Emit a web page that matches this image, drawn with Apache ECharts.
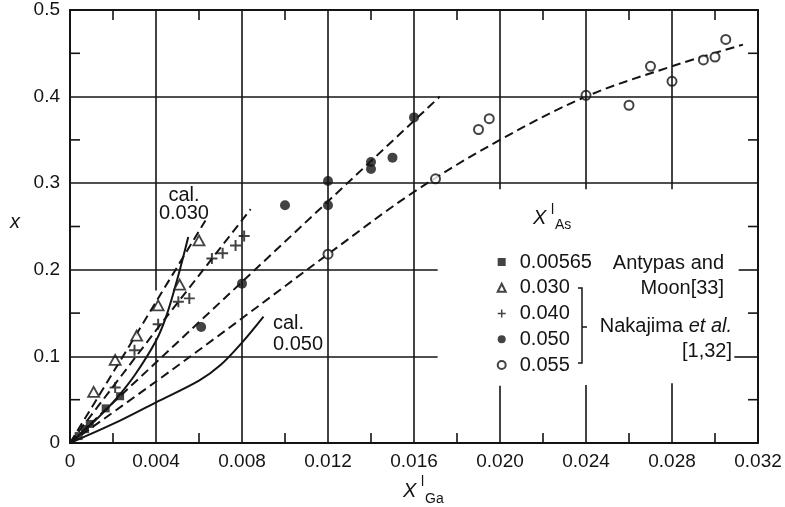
<!DOCTYPE html>
<html><head><meta charset="utf-8">
<script src="https://cdn.jsdelivr.net/npm/echarts@6/dist/echarts.min.js"></script>
<style>html,body{margin:0;padding:0;background:#fff}#c{width:785px;height:507px}</style>
</head><body><div id="c"></div>
<script>
// ---- data ----
const legendNames = ['0.00565', '0.030', '0.040', '0.050', '0.055'];
const antypas00565 = [[0.0004,0.008],[0.0007,0.016],[0.00092,0.022],[0.00166,0.040],[0.00233,0.054]];
const nakajima030 = [[0.0011,0.059],[0.0021,0.096],[0.0031,0.124],[0.0041,0.159],[0.0051,0.183],[0.0060,0.234]];
const nakajima040 = [[0.0021,0.064],[0.0030,0.107],[0.0041,0.137],[0.00504,0.163],[0.00555,0.167],[0.0066,0.213],[0.0071,0.219],[0.0077,0.228],[0.0081,0.239]];
const nakajima050 = [[0.0061,0.134],[0.0080,0.184],[0.0100,0.2745],[0.0120,0.2745],[0.0120,0.3025],[0.0140,0.3164],[0.0140,0.3245],[0.0150,0.3295],[0.0160,0.376]];
const nakajima055 = [[0.0120,0.218],[0.0170,0.305],[0.0190,0.362],[0.0195,0.3745],[0.0240,0.4015],[0.0260,0.390],[0.0270,0.435],[0.0280,0.4176],[0.02946,0.4423],[0.0300,0.4457],[0.0305,0.466]];
const fit030 = [[0,0],[0.003,0.122],[0.0063,0.257]];
const fit040 = [[0,0],[0.004,0.130],[0.0084,0.270]];
const fit050 = [[0,0],[0.008,0.186],[0.0172,0.400]];
const fit055 = [[0,0],[0.004,0.071],[0.008,0.144],[0.012,0.218],[0.016,0.290],[0.020,0.350],[0.024,0.400],[0.028,0.435],[0.0313,0.460]];
const cal030 = [[0,0],[0.001,0.022],[0.002,0.047],[0.003,0.078],[0.004,0.118],[0.0045,0.148],[0.005,0.190],[0.0055,0.238]];
const cal050 = [[0,0],[0.002,0.022],[0.004,0.047],[0.006,0.072],[0.007,0.090],[0.008,0.116],[0.009,0.146]];
// minor tick positions (between the labelled ticks)
const minorX = [0.002,0.006,0.010,0.014,0.018,0.022,0.026,0.030];
const minorY = [0.05,0.15,0.25,0.35,0.45];

// ---- layout / style ----
const INK = '#141414';
const FONT = "'Liberation Sans', Arial, Helvetica, sans-serif";
const X_MAX = 0.032, Y_MAX = 0.5, TICK_PX = 10;
// grid-line segments [x1,y1,x2,y2] in axis units (the original leaves gaps round the key)
const gridSegments = [
  [0.004,0,0.004,0.121],[0.004,0.176,0.004,0.5],
  [0.008,0,0.008,0.5],[0.012,0,0.012,0.5],[0.016,0,0.016,0.5],
  [0.020,0,0.020,0.066],[0.020,0.293,0.020,0.5],
  [0.024,0,0.024,0.067],[0.024,0.293,0.024,0.5],
  [0.028,0,0.028,0.069],[0.028,0.293,0.028,0.5],
  [0,0.1,0.0171,0.1],[0.0309,0.1,0.032,0.1],
  [0,0.2,0.0171,0.2],[0.0311,0.2,0.032,0.2],
  [0,0.3,0.032,0.3],[0,0.4,0.032,0.4]
];
const PLUS = 'path://M4.1,0H5.9V4.1H10V5.9H5.9V10H4.1V5.9H0V4.1H4.1Z';

function xAx(pos){
  return {type:'value', min:0, max:X_MAX, interval:0.004, position:pos,
    axisLine:{show:true, onZero:false, lineStyle:{color:INK, width:2}},
    axisTick:{show:false}, splitLine:{show:false},
    axisLabel:{show: pos==='bottom', margin:9, fontSize:19, color:INK, fontFamily:FONT,
      formatter: v => v===0 ? '0' : v.toFixed(3)}};
}
function yAx(pos){
  return {type:'value', min:0, max:Y_MAX, interval:0.1, position:pos,
    axisLine:{show:true, onZero:false, lineStyle:{color:INK, width:2}},
    axisTick:{show:false}, splitLine:{show:false},
    axisLabel:{show: pos==='left', margin:10, fontSize:19, color:INK, fontFamily:FONT,
      formatter: v => v===0 ? '0' : v.toFixed(1)}};
}
function fitLine(name, data, dashed, smooth){
  return {name, type:'line', data, showSymbol:false, symbol:'none', smooth: smooth ? 0.35 : false,
    silent:true, z:2, lineStyle:{color:INK, width:2, type: dashed ? [9,5] : 'solid'}};
}
function segLines(name, segs, width){
  return {name, type:'line', data:[], silent:true, z:1,
    markLine:{silent:true, symbol:['none','none'], label:{show:false}, animation:false,
      lineStyle:{color:INK, width, type:'solid'}, emphasis:{disabled:true},
      data: segs.map(s => [{coord:[s[0],s[1]]},{coord:[s[2],s[3]]}])}};
}

const chart = echarts.init(document.getElementById('c'), null, {renderer:'canvas'});
const option = {
  animation:false,
  backgroundColor:'#fff',
  grid:{left:70, right:27, top:10, bottom:64},
  xAxis:[xAx('bottom'), xAx('top')],
  yAxis:[yAx('left'), yAx('right')],
  legend:{data:legendNames, orient:'vertical', left:496.7, top:252, padding:0,
    itemWidth:8, itemHeight:8, itemGap:5.75, selectedMode:false,
    textStyle:{fontSize:20, lineHeight:20, color:INK, fontFamily:FONT, padding:[0,0,0,9]}},
  series:[
    segLines('grid', gridSegments, 1.6),
    fitLine('fit030', fit030, true, false),
    fitLine('fit040', fit040, true, false),
    fitLine('fit050', fit050, true, false),
    fitLine('fit055', fit055, true, true),
    fitLine('cal030', cal030, false, true),
    fitLine('cal050', cal050, false, true),
    {name:legendNames[0], type:'scatter', data:antypas00565, symbol:'rect', symbolSize:8, z:3,
      itemStyle:{color:INK}},
    {name:legendNames[1], type:'scatter', data:nakajima030, symbol:'triangle', symbolSize:[11,10], z:3,
      itemStyle:{color:'#fff', borderColor:INK, borderWidth:1.8}},
    {name:legendNames[2], type:'scatter', data:nakajima040, symbol:PLUS, symbolSize:11, z:3,
      itemStyle:{color:INK}},
    {name:legendNames[3], type:'scatter', data:nakajima050, symbol:'circle', symbolSize:10, z:3,
      itemStyle:{color:INK}},
    {name:legendNames[4], type:'scatter', data:nakajima055, symbol:'circle', symbolSize:9, z:3,
      itemStyle:{color:'#fff', borderColor:INK, borderWidth:2}}
  ]
};
chart.setOption(option);

const px = p => chart.convertToPixel({xAxisIndex:0, yAxisIndex:0}, p);
const o = px([0,0]), e = px([X_MAX, Y_MAX]);
const tickEls = [];
function tick(x1,y1,x2,y2){
  tickEls.push({type:'line', z:5, shape:{x1,y1,x2,y2}, style:{stroke:INK, lineWidth:1.6}});
}
// inward minor ticks on all four sides, placed through the axes' own scale
minorX.forEach(v => { const x = px([v,0])[0]; tick(x,o[1],x,o[1]-TICK_PX); tick(x,e[1],x,e[1]+TICK_PX); });
minorY.forEach(v => { const y = px([0,v])[1]; tick(o[0],y,o[0]+TICK_PX,y); tick(e[0],y,e[0]-TICK_PX,y); });

const c30 = px([0.0053, 0.275]);
const c50 = px([0.00944, 0.126]);
function txt(x, y, text, extra){
  return {type:'text', x, y, z:10, style:Object.assign({text, fill:INK, fontFamily:FONT, fontSize:20,
    align:'left', verticalAlign:'middle'}, extra||{})};
}
chart.setOption({graphic: tickEls.concat([
  txt(c30[0], c30[1], 'cal.\n0.030', {align:'center', lineHeight:18}),
  txt(c50[0], c50[1], 'cal.\n0.050', {align:'left', lineHeight:21}),
  // y axis name
  txt(15, 222, 'x', {align:'center', fontStyle:'italic'}),
  // x axis name  X^l_Ga
  txt(403, 491, 'X', {fontStyle:'italic'}),
  txt(421, 482, 'l', {fontSize:14}),
  txt(425, 499, 'Ga', {fontSize:14}),
  // key title X^l_As
  txt(533, 218, 'X', {fontStyle:'italic'}),
  txt(551, 210, 'l', {fontSize:14}),
  txt(555, 225, 'As', {fontSize:14}),
  // sources
  txt(724, 263, 'Antypas and', {align:'right'}),
  txt(724, 288, 'Moon[33]', {align:'right'}),
  {type:'text', x:732, y:326, z:10, style:{text:'{n|Nakajima }{i|et al.}', align:'right', verticalAlign:'middle',
    fill:INK, fontFamily:FONT, fontSize:20,
    rich:{n:{fontSize:20, fontFamily:FONT, fill:INK}, i:{fontSize:20, fontFamily:FONT, fontStyle:'italic', fill:INK}}}},
  txt(732, 351, '[1,32]', {align:'right'}),
  // bracket
  {type:'polyline', z:10, shape:{points:[[578,288],[582,288],[582,363],[578,363]]},
    style:{stroke:INK, lineWidth:1.5, fill:null}},
  {type:'line', z:10, shape:{x1:582, y1:327, x2:587, y2:327}, style:{stroke:INK, lineWidth:1.5}}
])});
</script>
</body></html>
